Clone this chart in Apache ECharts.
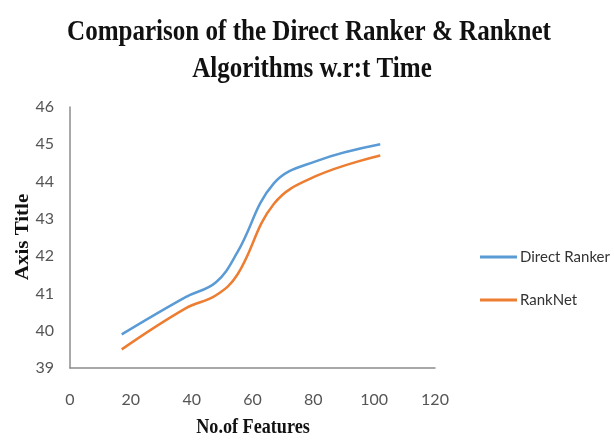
<!DOCTYPE html>
<html>
<head>
<meta charset="utf-8">
<script src="https://cdn.jsdelivr.net/npm/echarts@6/dist/echarts.min.js"></script>
<style>
  html, body { margin: 0; padding: 0; background: #fff; }
  #chart { width: 614px; height: 441px; }
</style>
</head>
<body>
<div id="chart"></div>
<script>
// Number of features (x) and time values for each algorithm
const features = [17, 38, 48, 55, 67, 81, 102];
const directRanker = [39.9, 40.9, 41.3, 42.1, 43.95, 44.55, 45.0];
const rankNet = [39.5, 40.6, 40.95, 41.5, 43.4, 44.15, 44.7];
const xTicks = [0, 20, 40, 60, 80, 100, 120];
const yTicks = [39, 40, 41, 42, 43, 44, 45, 46];
const titleLines = ['Comparison of the Direct Ranker & Ranknet', 'Algorithms w.r:t Time'];
const xAxisTitle = 'No.of Features';
const yAxisTitle = 'Axis Title';

const pairs = (xs, ys) => xs.map((x, i) => [x, ys[i]]);

// Narrow bold serif headings
const SERIF = '"Liberation Serif", "Times New Roman", serif';
const NARROW = 0.864;
const heading = (text, x, y, size, extra) => Object.assign({
  type: 'text',
  x: x,
  y: y,
  scaleX: NARROW,
  silent: true,
  style: {
    text: text,
    fill: '#111',
    font: 'bold ' + size + 'px ' + SERIF,
    textAlign: 'center',
    textVerticalAlign: 'middle'
  }
}, extra || {});

const chart = echarts.init(document.getElementById('chart'));
chart.setOption({
  backgroundColor: '#fff',
  animation: false,
  graphic: [
    heading(titleLines[0], 309, 33, 29),
    heading(titleLines[1], 312, 70, 29),
    heading(xAxisTitle, 253, 428, 21),
    heading(yAxisTitle, 23, 237, 21, { scaleX: 1, scaleY: NARROW, rotation: Math.PI / 2 })
  ],
  legend: {
    orient: 'vertical',
    left: 475,
    top: 243,
    itemWidth: 37,
    itemHeight: 3,
    itemGap: 25,
    icon: 'rect',
    textStyle: { fontFamily: 'Lato', fontSize: 15, lineHeight: 18, color: '#333', padding: [0, 0, 0, -2] },
    data: ['Direct Ranker', 'RankNet']
  },
  grid: { left: 70, right: 179, top: 107, bottom: 73 },
  xAxis: {
    type: 'value',
    min: xTicks[0],
    max: xTicks[xTicks.length - 1],
    interval: 20,
    axisLine: { lineStyle: { color: '#8c8c8c', width: 1.5 } },
    axisTick: { show: false },
    splitLine: { show: false },
    axisLabel: { margin: 24, fontFamily: 'Lato', fontSize: 16, color: '#555' }
  },
  yAxis: {
    type: 'value',
    min: yTicks[0],
    max: yTicks[yTicks.length - 1],
    interval: 1,
    axisLine: { show: true, lineStyle: { color: '#8c8c8c', width: 1.5 } },
    axisTick: { show: false },
    splitLine: { show: false },
    axisLabel: { margin: 16, fontFamily: 'Lato', fontSize: 16, color: '#555' }
  },
  series: [
    {
      name: 'Direct Ranker',
      type: 'line',
      smooth: 0.4,
      showSymbol: false,
      data: pairs(features, directRanker),
      lineStyle: { color: '#5B9BD5', width: 2.5 },
      itemStyle: { color: '#5B9BD5' }
    },
    {
      name: 'RankNet',
      type: 'line',
      smooth: 0.4,
      showSymbol: false,
      data: pairs(features, rankNet),
      lineStyle: { color: '#ED7D31', width: 2.5 },
      itemStyle: { color: '#ED7D31' }
    }
  ]
});
</script>
</body>
</html>
